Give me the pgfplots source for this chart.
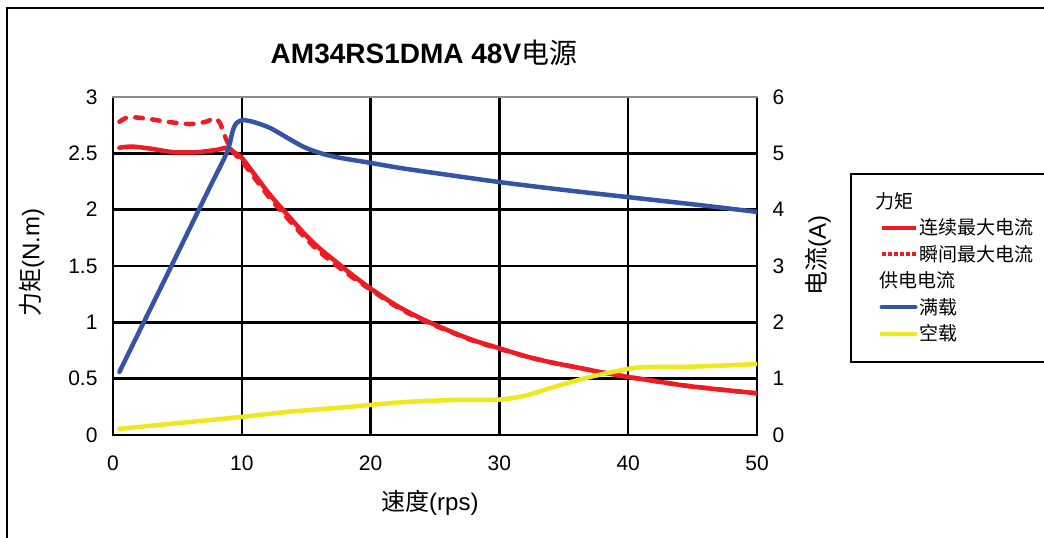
\documentclass[border=0pt]{standalone}
\usepackage{fontspec}
\setmainfont{Liberation Sans}
\newfontfamily\cjk{Noto Sans CJK SC}
\usepackage{pgfplots}
\pgfplotsset{compat=1.18}

\definecolor{cred}{RGB}{237,28,36}
\definecolor{cblue}{RGB}{52,84,164}
\definecolor{cyellow}{RGB}{240,232,30}

% torque, N.m
\pgfplotstableread{
x y
0.5 2.55
1.5 2.56
3 2.54
4.7 2.51
6.5 2.51
8 2.53
8.9 2.55
9.4 2.51
10 2.46
11 2.31
12.2 2.13
13.5 1.96
14.75 1.80
16 1.66
17.4 1.53
18.7 1.41
20 1.30
21.3 1.20
22.3 1.13
24 1.03
26.2 0.92
28 0.84
30 0.77
32 0.70
34 0.645
36 0.60
38 0.555
40 0.515
42 0.48
44.3 0.44
47 0.405
50 0.37
}\contdata

\pgfplotstableread{
x y
0.5 2.78
1.2 2.82
2.5 2.81
4.2 2.78
6 2.76
7.2 2.78
7.9 2.81
8.3 2.77
8.7 2.65
9.2 2.53
10 2.43
11 2.28
12.2 2.10
13.5 1.93
14.75 1.77
16 1.63
17.4 1.50
18.7 1.39
20 1.29
21.3 1.19
22.3 1.12
24 1.02
26.2 0.915
28 0.835
30 0.765
32 0.70
34 0.645
36 0.60
38 0.555
40 0.515
42 0.48
44.3 0.44
47 0.405
50 0.37
}\peakdata

% current, A
\pgfplotstableread{
x y
0.5 1.12
2 1.82
4 2.75
5.75 3.57
7.5 4.39
8.85 5.02
9.3 5.40
9.6 5.54
10.1 5.59
11 5.55
12.2 5.45
13.5 5.28
14.75 5.12
16 5.01
17.4 4.93
20 4.83
22.3 4.74
25 4.65
30 4.49
35 4.35
40.1 4.22
45.6 4.08
50 3.96
}\fulldata

\pgfplotstableread{
x y
0.5 0.11
5 0.21
9.9 0.32
14 0.42
18.4 0.50
22.3 0.58
26.2 0.62
30 0.63
32 0.70
33.9 0.83
36.5 1.00
38.8 1.12
40.9 1.20
44.3 1.21
47 1.23
50 1.26
}\idledata

\begin{document}
\begin{tikzpicture}[x=1pt,y=1pt]
\useasboundingbox (0,0) rectangle (1044,538);
\fill[white] (0,0) rectangle (1044,538);
\draw[line width=2.5pt] (7,0) -- (7,530) -- (1050,530);

\pgfplotsset{
  every axis/.append style={
    at={(113pt,103pt)}, anchor=south west,
    scale only axis, width=644pt, height=338pt,
    xmin=0, xmax=50,
    major tick length=0pt,
    axis line style={draw=none},
    tick label style={font=\fontsize{21}{25}\selectfont},
    /pgf/number format/assume math mode=true,
  },
}

\begin{axis}[
  ymin=0, ymax=3,
  xtick={0,10,...,50},
  ytick={0,0.5,1,1.5,2,2.5},
  yticklabels={0,0.5,1,1.5,2,2.5},
  extra y ticks={3},
  extra y tick labels={3},
  extra y tick style={major grid style={color=black!45, line width=2.5pt}},
  grid=major,
  major grid style={black, line width=2.5pt, line cap=rect},
  x tick label style={yshift=-17pt},
  y tick label style={xshift=-12pt},
  xlabel={{\cjk 速度}(rps)},
  xlabel style={at={(axis description cs:0.492,0)}, anchor=center, yshift=-68pt, font=\fontsize{24}{28}\selectfont},
  ylabel={{\cjk 力矩}(N.m)},
  ylabel style={at={(axis description cs:-0.126,0.51)}, anchor=center, font=\fontsize{24}{28}\selectfont},
]
\addplot[cred, line width=4.5pt, smooth, line cap=round] table {\contdata};
\addplot[cred, line width=4.5pt, smooth, line cap=round, dash pattern=on 7.5pt off 9.5pt] table {\peakdata};
\end{axis}

\begin{axis}[
  ymin=0, ymax=6,
  ytick={0,1,...,6},
  axis x line=none,
  axis y line*=right,
  y tick label style={xshift=12pt},
  ylabel={{\cjk 电流}(A)},
  ylabel style={at={(axis description cs:1.095,0.53)}, anchor=center, rotate=0, font=\fontsize{24}{28}\selectfont},
  legend cell align=left,
  legend image code/.code={\draw[#1, line width=4pt] (0pt,0pt) -- (34pt,0pt);},
  legend style={draw=none, fill=none, at={(axis description cs:1.190,0.724)}, anchor=north west,
    font=\cjk\fontsize{19}{22}\selectfont, row sep=5pt, inner sep=0pt,
    nodes={inner sep=2pt}},
]
\addlegendimage{empty legend}
\addlegendentry{\hspace*{-47pt}力矩}
\addlegendimage{cred}
\addlegendentry{连续最大电流}
\addlegendimage{cred, dash pattern=on 4pt off 2pt}
\addlegendentry{瞬间最大电流}
\addlegendimage{empty legend}
\addlegendentry{\hspace*{-40pt}\rule[-9pt]{0pt}{23pt}供电电流}
\addplot[cblue, line width=4.5pt, smooth, line cap=round] table {\fulldata};
\addlegendentry{满载}
\addplot[cyellow, line width=4.5pt, smooth, line cap=round] table {\idledata};
\addlegendentry{空载}
\end{axis}

\node[anchor=base, font=\fontsize{28}{33}\selectfont] at (424,474) {{\bfseries AM34RS1DMA 48V}{\cjk 电源}};
\draw[line width=2.5pt] (851,364) rectangle (1060,176);
\end{tikzpicture}
\end{document}
